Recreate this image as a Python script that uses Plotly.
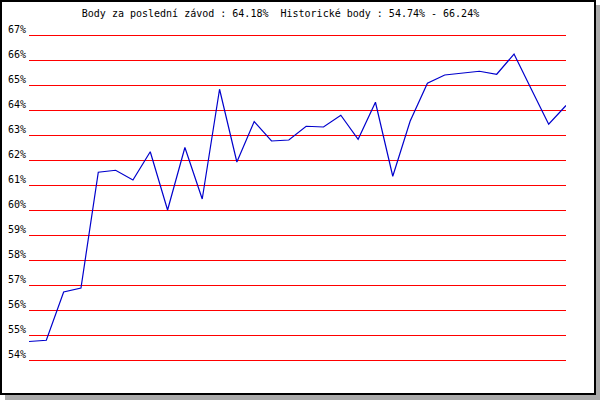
import plotly.graph_objects as go

# points per race, in percent
races = list(range(1, 33))
points = [54.74, 54.79, 56.72, 56.88, 61.51, 61.59, 61.20, 62.33,
          60.00, 62.50, 60.44, 64.83, 61.92, 63.54, 62.76, 62.80,
          63.35, 63.32, 63.79, 62.83, 64.31, 61.35, 63.55, 65.07,
          65.40, 65.48, 65.55, 65.43, 66.24, 64.83, 63.43, 64.18]
tick_vals = list(range(54, 68))
tick_text = [str(v) + "%" for v in tick_vals]
title_text = "Body za poslední závod : 64.18%  Historické body : 54.74% - 66.24%"

W, H = 600, 400
ml, mr, mt, mb = 29, 34, 32, 37
pw = W - ml - mr
ph = H - mt - mb

def px(x):
    return (x - ml) / pw

def py(y):
    return 1 - (y - mt) / ph

font = dict(family="DejaVu Sans Mono", size=10, color="black")

fig = go.Figure()
fig.add_trace(go.Scatter(x=races, y=points, mode="lines",
                         line=dict(color="#0000cc", width=1.2),
                         hoverinfo="skip", showlegend=False))

fig.update_layout(
    width=W, height=H,
    margin=dict(l=ml, r=mr, t=mt, b=mb, pad=0, autoexpand=False),
    paper_bgcolor="white",
    plot_bgcolor="white",
    font=font,
    title=dict(text=title_text, x=280.5 / W, xanchor="center",
               y=1 - 13.5 / H, yanchor="middle", yref="container",
               font=font, automargin=False),
    xaxis=dict(range=[1, 32], visible=False, showgrid=False, zeroline=False,
               automargin=False),
    yaxis=dict(range=[53.88, 67.12], tickvals=tick_vals, ticktext=tick_text,
               showgrid=True, gridcolor="#ff0000", gridwidth=1,
               zeroline=False, showline=False, ticks="", automargin=False,
               ticklabelshift=-6, ticklabelstandoff=2, tickfont=font),
    shapes=[
        # grey drop shadow, right and bottom strips
        dict(type="rect", xref="paper", yref="paper", layer="above",
             x0=px(596), x1=px(600), y0=py(5), y1=py(400),
             fillcolor="#aaaaaa", line=dict(width=0)),
        dict(type="rect", xref="paper", yref="paper", layer="above",
             x0=px(5), x1=px(600), y0=py(395), y1=py(400),
             fillcolor="#aaaaaa", line=dict(width=0)),
        # black frame
        dict(type="rect", xref="paper", yref="paper", layer="above",
             x0=px(1), x1=px(595), y0=py(1), y1=py(394),
             fillcolor="rgba(0,0,0,0)", line=dict(color="black", width=2)),
    ],
)

fig.write_html("out.html", config={"displayModeBar": False},
               post_script="document.body.style.margin='0px';")
